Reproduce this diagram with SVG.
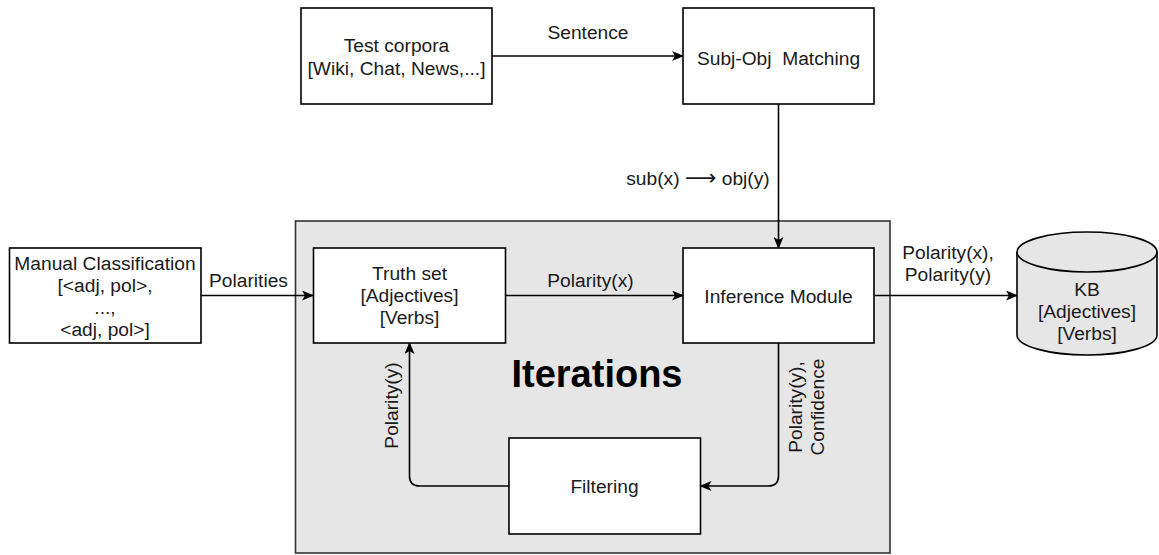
<svg xmlns="http://www.w3.org/2000/svg" width="1159" height="555" viewBox="0 0 1159 555">
  <style>
    .box { fill: #ffffff; stroke: #000000; stroke-width: 1.6; }
    .group { fill: #e6e6e6; stroke: #333333; stroke-width: 1.6; }
    .db { fill: #e6e6e6; stroke: #000000; stroke-width: 1.6; }
    .edge { fill: none; stroke: #000000; stroke-width: 1.6; }
    text { font-family: "Liberation Sans", Arial, sans-serif; font-size: 19.2px; fill: #1a1a1a; text-anchor: middle; }
    .title { font-size: 38px; font-weight: bold; fill: #000000; }
    .sym { font-family: "DejaVu Sans", sans-serif; font-size: 22px; }
  </style>
  <defs>
    <marker id="arrow" markerWidth="12" markerHeight="10" refX="11" refY="5" orient="auto" markerUnits="userSpaceOnUse">
      <path d="M0,0 L12,5 L0,10 L3,5 Z" fill="#000000"/>
    </marker>
  </defs>

  <!-- iteration container -->
  <g id="iterations">
    <rect class="group" x="295.5" y="221" width="594.5" height="332"/>
    <text class="title" x="597" y="387">Iterations</text>
  </g>

  <!-- connectors -->
  <g id="connectors">
    <path class="edge" d="M492,56 H683" marker-end="url(#arrow)"/>
    <path class="edge" d="M778.5,104 V248" marker-end="url(#arrow)"/>
    <path class="edge" d="M201,295.5 H313" marker-end="url(#arrow)"/>
    <path class="edge" d="M505.5,295.5 H683" marker-end="url(#arrow)"/>
    <path class="edge" d="M874,295.5 H1017" marker-end="url(#arrow)"/>
    <path class="edge" d="M778.5,343 V476 Q778.5,486 768.5,486 H700.5" marker-end="url(#arrow)"/>
    <path class="edge" d="M509,486 H419.5 Q409.5,486 409.5,476 V343" marker-end="url(#arrow)"/>
    <text x="588" y="39">Sentence</text>
    <text x="698" y="185">sub(x) <tspan class="sym">⟶</tspan> obj(y)</text>
    <text x="248.5" y="287">Polarities</text>
    <text x="590.5" y="287">Polarity(x)</text>
    <text x="948" y="259">Polarity(x),</text>
    <text x="948" y="281">Polarity(y)</text>
    <text transform="translate(398,405.5) rotate(-90)">Polarity(y)</text>
    <text transform="translate(802,407) rotate(-90)">Polarity(y),</text>
    <text transform="translate(824,407) rotate(-90)">Confidence</text>
  </g>

  <g id="test-corpora">
    <rect class="box" x="301" y="8" width="191" height="96"/>
    <text x="396.5" y="52">Test corpora</text>
    <text x="396.5" y="75">[Wiki, Chat, News,...]</text>
  </g>

  <g id="subj-obj-matching">
    <rect class="box" x="683" y="8" width="191" height="96"/>
    <text x="778.5" y="64.5" xml:space="preserve">Subj-Obj  Matching</text>
  </g>

  <g id="manual-classification">
    <rect class="box" x="9.5" y="248" width="191.5" height="95"/>
    <text x="105" y="270">Manual Classification</text>
    <text x="105" y="292">[&lt;adj, pol&gt;,</text>
    <text x="105" y="314">...,</text>
    <text x="105" y="336">&lt;adj, pol&gt;]</text>
  </g>

  <g id="truth-set">
    <rect class="box" x="313.5" y="248" width="192" height="95"/>
    <text x="409.5" y="280">Truth set</text>
    <text x="409.5" y="302">[Adjectives]</text>
    <text x="409.5" y="324">[Verbs]</text>
  </g>

  <g id="inference-module">
    <rect class="box" x="683" y="248" width="191" height="95"/>
    <text x="778.5" y="302.5">Inference Module</text>
  </g>

  <g id="filtering">
    <rect class="box" x="509" y="438" width="191.5" height="96"/>
    <text x="604.5" y="493">Filtering</text>
  </g>

  <g id="kb">
    <path class="db" d="M1017,252 A70,20 0 0 1 1157,252 V335 A70,20 0 0 1 1017,335 Z"/>
    <path class="edge" d="M1017,252 A70,20 0 0 0 1157,252"/>
    <text x="1087" y="296">KB</text>
    <text x="1087" y="318">[Adjectives]</text>
    <text x="1087" y="340">[Verbs]</text>
  </g>
</svg>
